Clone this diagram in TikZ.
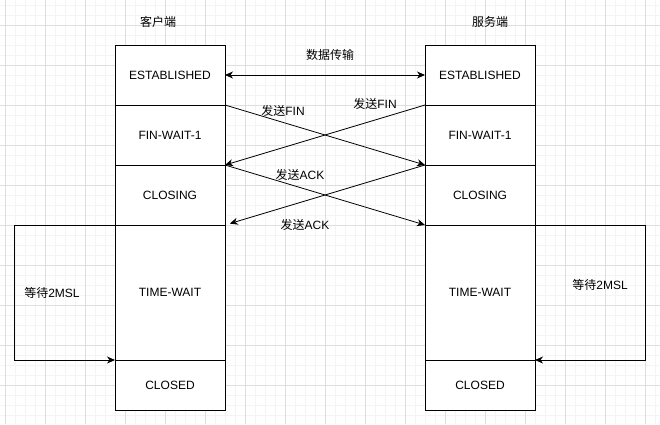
\documentclass[tikz,border=0pt]{standalone}
\usepackage{fontspec}
\setmainfont{Liberation Sans}
\newfontfamily\cjk{Noto Sans CJK SC}
\usetikzlibrary{arrows.meta,positioning}

\begin{document}
\begin{tikzpicture}[
    x=1pt, y=-1pt,
    every node/.style={font=\fontsize{12}{14}\selectfont},
    statebox/.style={rectangle, draw, fill=white, line width=0.8pt, outer sep=0pt, minimum width=110pt, minimum height=60pt},
    arrow/.style={-{Stealth[length=8pt,width=7pt,inset=2.5pt]}, line width=0.8pt},
    twoway/.style={{Stealth[length=8pt,width=7pt,inset=2.5pt]}-{Stealth[length=8pt,width=7pt,inset=2.5pt]}, line width=0.8pt},
    minorgrid/.style={draw=gray!9, line width=0.6pt},
    majorgrid/.style={draw=gray!26, line width=0.8pt}
]
\useasboundingbox (0,0) rectangle (660,424);

% Grid background
\foreach \x in {5,15,...,655} \draw[minorgrid] (\x,0) -- (\x,424);
\foreach \y in {5,15,...,415} \draw[minorgrid] (0,\y) -- (660,\y);
\foreach \x in {5,45,...,645} \draw[majorgrid] (\x,0) -- (\x,424);
\foreach \y in {25,65,...,385} \draw[majorgrid] (0,\y) -- (660,\y);

% Titles
\node (client) at (158,22) {\cjk 客户端};
\node (server) at (490,22) {\cjk 服务端};

% Client states
\node[statebox] (cE) at (170,75) {ESTABLISHED};
\node[statebox, below=0pt of cE] (cF) {FIN-WAIT-1};
\node[statebox, below=0pt of cF] (cC) {CLOSING};
\node[statebox, below=0pt of cC, minimum height=135pt] (cT) {TIME-WAIT};
\node[statebox, below=0pt of cT, minimum height=50pt] (cD) {CLOSED};

% Server states
\node[statebox] (sE) at (480,75) {ESTABLISHED};
\node[statebox, below=0pt of sE] (sF) {FIN-WAIT-1};
\node[statebox, below=0pt of sF] (sC) {CLOSING};
\node[statebox, below=0pt of sC, minimum height=135pt] (sT) {TIME-WAIT};
\node[statebox, below=0pt of sT, minimum height=50pt] (sD) {CLOSED};

% Labels
\node (data) at (330,55) {\cjk 数据传输};
\node (fin1) at (283,111) {{\cjk 发送}FIN};
\node (fin2) at (375,104) {{\cjk 发送}FIN};
\node (ack1) at (300,175) {{\cjk 发送}ACK};
\node (ack2) at (305,225) {{\cjk 发送}ACK};
\node (wait1) at (52,293) {{\cjk 等待}2MSL};
\node (wait2) at (600,285) {{\cjk 等待}2MSL};

% Connections
\draw[twoway] (cE) -- (sE);

\draw[arrow] (cE.south east) -- (sF.south west);
\draw[arrow] (sE.south west) -- (cF.south east);

\draw[arrow] (cF.south east) -- (sC.south west);
\draw[arrow, shorten >=5pt] (sF.south west) -- (cC.south east);

% Wait loops
\coordinate (lw) at (14,225);
\coordinate (rw) at (645,225);
\draw[arrow] (cT.north west) -- (lw) |- (cT.south west);
\draw[arrow] (sT.north east) -- (rw) |- (sT.south east);
\end{tikzpicture}
\end{document}
